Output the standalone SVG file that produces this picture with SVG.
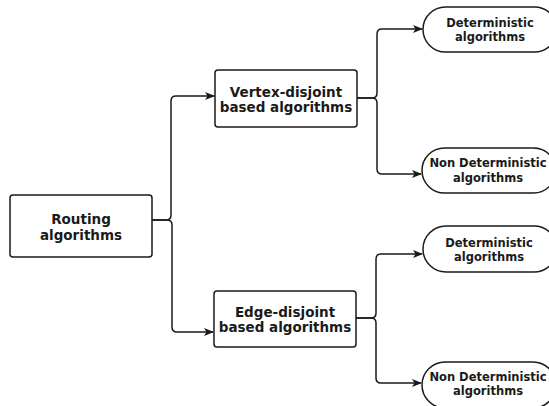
<svg xmlns="http://www.w3.org/2000/svg" width="549" height="406" viewBox="0 0 549 406">
<defs>
<marker id="arr" viewBox="0 0 10 8" refX="9" refY="4" markerWidth="10" markerHeight="8" markerUnits="userSpaceOnUse" orient="auto">
<path d="M0,0 L10,4 L0,8 L2.5,4 Z" fill="#1a1a1a"/>
</marker>
<style>
.box{fill:#fff;stroke:#1a1a1a;stroke-width:1.5}
.lbl{font-family:"DejaVu Sans",sans-serif;font-weight:bold;font-size:13.5px;fill:#1a1a1a;text-anchor:middle}
.sm{font-family:"DejaVu Sans",sans-serif;font-weight:bold;font-size:11.5px;fill:#1a1a1a;text-anchor:middle}
.edge{fill:none;stroke:#1a1a1a;stroke-width:1.5;marker-end:url(#arr)}
</style>
</defs>
<g id="connectors">
<path class="edge" d="M152,220 H166 Q171,220 171,215 V101 Q171,96 176,96 H214"/>
<path class="edge" d="M152,220 H167 Q172,220 172,225 V327 Q172,332 177,332 H213"/>
<path class="edge" d="M357,98 H372 Q377,98 377,93 V34 Q377,29 382,29 H422"/>
<path class="edge" d="M357,98 H372 Q377,98 377,103 V169 Q377,174 382,174 H421"/>
<path class="edge" d="M356,318 H371 Q376,318 376,313 V259 Q376,254 381,254 H422"/>
<path class="edge" d="M356,318 H371 Q376,318 376,323 V378 Q376,383 381,383 H421"/>
</g>
<g id="routing">
<rect class="box" x="10" y="195" width="142" height="62" rx="3"/>
<text class="lbl" x="81" y="224">Routing</text>
<text class="lbl" x="81" y="240">algorithms</text>
</g>
<g id="vertex">
<rect class="box" x="215" y="70" width="142" height="57" rx="3"/>
<text class="lbl" x="286" y="97">Vertex-disjoint</text>
<text class="lbl" x="286" y="112">based algorithms</text>
</g>
<g id="edge">
<rect class="box" x="214" y="291" width="142" height="56" rx="3"/>
<text class="lbl" x="285" y="317">Edge-disjoint</text>
<text class="lbl" x="285" y="332">based algorithms</text>
</g>
<g id="det1">
<rect class="box" x="423" y="7" width="134" height="45" rx="22.5"/>
<text class="sm" x="490" y="27">Deterministic</text>
<text class="sm" x="490" y="41">algorithms</text>
</g>
<g id="nondet1">
<rect class="box" x="422" y="148" width="134" height="45" rx="22.5"/>
<text class="sm" x="488" y="167">Non Deterministic</text>
<text class="sm" x="488" y="182">algorithms</text>
</g>
<g id="det2">
<rect class="box" x="423" y="226" width="134" height="46" rx="23"/>
<text class="sm" x="489" y="247">Deterministic</text>
<text class="sm" x="489" y="261">algorithms</text>
</g>
<g id="nondet2">
<rect class="box" x="422" y="362" width="134" height="46" rx="23"/>
<text class="sm" x="488" y="381">Non Deterministic</text>
<text class="sm" x="488" y="395">algorithms</text>
</g>
</svg>
